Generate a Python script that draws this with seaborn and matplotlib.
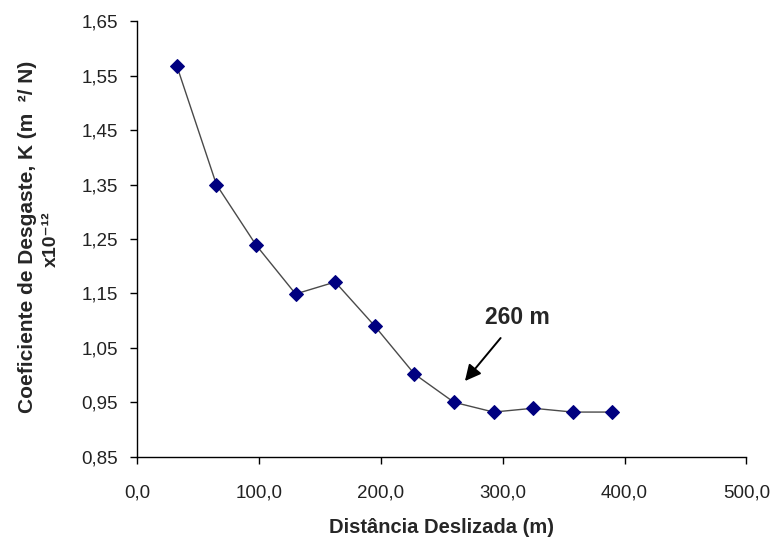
import matplotlib
matplotlib.use("Agg")
import matplotlib.pyplot as plt
import seaborn as sns
import pandas as pd

# Data
distancia = [32.5, 65.0, 97.5, 130.0, 162.5, 195.0, 227.5, 260.0, 292.5, 325.0, 357.5, 390.0]
coef_k = [1.568, 1.350, 1.239, 1.149, 1.171, 1.090, 1.002, 0.950, 0.932, 0.939, 0.932, 0.932]

x_ticks = [0, 100, 200, 300, 400, 500]
x_tick_labels = ["0,0", "100,0", "200,0", "300,0", "400,0", "500,0"]
y_ticks = [0.85, 0.95, 1.05, 1.15, 1.25, 1.35, 1.45, 1.55, 1.65]
y_tick_labels = ["0,85", "0,95", "1,05", "1,15", "1,25", "1,35", "1,45", "1,55", "1,65"]

annot_text = "260 m"
annot_target = (269, 0.989)
annot_text_pos = (312, 1.105)

sns.set_theme(style="white")
plt.rcParams["font.family"] = ["Liberation Sans", "DejaVu Sans"]

df = pd.DataFrame({"x": distancia, "y": coef_k})

fig = plt.figure(figsize=(7.71, 5.39), dpi=100)
ax = fig.add_axes([0.178, 0.1527, 0.790, 0.8078])

sns.lineplot(data=df, x="x", y="y", ax=ax, color="#4a4a4a", linewidth=1.0,
             marker="D", markersize=7, markerfacecolor="#000080",
             markeredgecolor="#000080", estimator=None, sort=False)

ax.set_xlim(0, 500)
ax.set_ylim(0.85, 1.65)
ax.set_xticks(x_ticks)
ax.set_xticklabels(x_tick_labels)
ax.set_yticks(y_ticks)
ax.set_yticklabels(y_tick_labels)

for s in ["top", "right"]:
    ax.spines[s].set_visible(False)
for s in ["left", "bottom"]:
    ax.spines[s].set_color("black")
    ax.spines[s].set_linewidth(1.0)

ax.tick_params(axis="both", which="major", direction="out", length=5, width=1,
               color="black", labelsize=13.5, labelcolor="#222222")
ax.tick_params(axis="x", pad=15, bottom=True)
ax.tick_params(axis="y", pad=9, left=True)

label_font = ["Liberation Sans", "DejaVu Sans"]
ax.set_xlabel("Distância Deslizada (m)", fontsize=14.5, fontweight="bold",
              family=label_font, labelpad=12)
ax.set_ylabel("")

fig.text(0.036, 0.560, "Coeficiente de Desgaste, K (m  ²/ N)", rotation=90,
         ha="center", va="center", fontsize=15, fontweight="bold", family=label_font)
fig.text(0.066, 0.556, "x10⁻¹²", rotation=90, ha="center", va="center",
         fontsize=14, fontweight="bold", family=label_font)

ax.annotate(annot_text, xy=annot_target, xytext=annot_text_pos,
            ha="center", va="center", fontsize=16.5, fontweight="bold",
            family=["Liberation Sans", "DejaVu Sans"],
            arrowprops=dict(arrowstyle="-|>", color="black", lw=1.4,
                            mutation_scale=24, shrinkA=5, shrinkB=0))

fig.savefig("out.png", dpi=100)
